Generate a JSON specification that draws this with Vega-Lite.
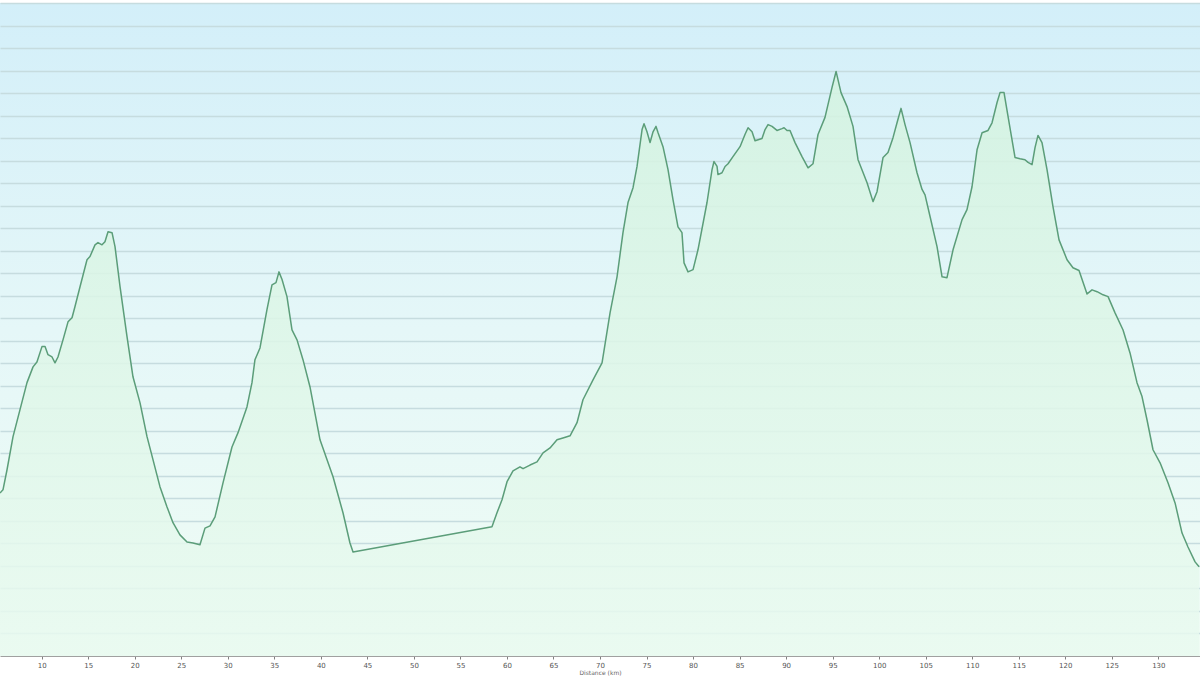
{
  "$schema": "https://vega.github.io/schema/vega-lite/v6.json",
  "width": 1200,
  "height": 653,
  "autosize": {"type": "none"},
  "padding": {"top": 3, "left": 0, "right": 0, "bottom": 28},
  "background": "#ffffff",
  "view": {
    "stroke": null,
    "fill": {"gradient": "linear", "x1": 0, "y1": 0, "x2": 0, "y2": 1,
      "stops": [{"offset": 0, "color": "#d3eff9"}, {"offset": 0.5, "color": "#e5f7f8"}, {"offset": 1, "color": "#effcf4"}]}
  },
  "data": {"values": [
    {"km":5.52,"ele":362},{"km":5.84,"ele":369},{"km":6.27,"ele":413},{"km":6.92,"ele":487},{"km":7.67,"ele":547},
    {"km":8.42,"ele":607},{"km":9.07,"ele":642},{"km":9.49,"ele":653},{"km":10.03,"ele":687},{"km":10.36,"ele":687},
    {"km":10.68,"ele":669},{"km":11.11,"ele":664},{"km":11.43,"ele":651},{"km":11.75,"ele":664},{"km":12.29,"ele":702},
    {"km":12.83,"ele":742},{"km":13.26,"ele":751},{"km":13.58,"ele":776},{"km":14.12,"ele":820},{"km":14.87,"ele":880},
    {"km":15.19,"ele":887},{"km":15.73,"ele":913},{"km":16.05,"ele":918},{"km":16.48,"ele":913},{"km":16.80,"ele":920},
    {"km":17.13,"ele":942},{"km":17.56,"ele":940},{"km":17.88,"ele":909},{"km":18.42,"ele":820},{"km":19.17,"ele":709},
    {"km":19.81,"ele":620},{"km":20.57,"ele":562},{"km":21.32,"ele":487},{"km":21.96,"ele":436},{"km":22.71,"ele":376},
    {"km":23.47,"ele":331},{"km":24.11,"ele":296},{"km":24.86,"ele":269},{"km":25.62,"ele":253},{"km":26.26,"ele":251},
    {"km":27.01,"ele":247},{"km":27.55,"ele":284},{"km":28.09,"ele":289},{"km":28.63,"ele":309},{"km":29.48,"ele":384},
    {"km":30.45,"ele":464},{"km":31.10,"ele":496},{"km":32.06,"ele":553},{"km":32.60,"ele":607},{"km":32.92,"ele":658},
    {"km":33.46,"ele":684},{"km":34.21,"ele":769},{"km":34.75,"ele":824},{"km":35.18,"ele":829},{"km":35.50,"ele":853},
    {"km":35.83,"ele":836},{"km":36.36,"ele":798},{"km":36.90,"ele":724},{"km":37.44,"ele":702},{"km":38.08,"ele":658},
    {"km":38.83,"ele":598},{"km":39.91,"ele":480},{"km":41.31,"ele":398},{"km":42.38,"ele":318},{"km":43.13,"ele":251},
    {"km":43.46,"ele":231},{"km":58.39,"ele":287},{"km":58.93,"ele":318},{"km":59.47,"ele":347},{"km":60.01,"ele":387},
    {"km":60.65,"ele":411},{"km":61.40,"ele":420},{"km":61.73,"ele":416},{"km":62.48,"ele":424},{"km":63.23,"ele":431},
    {"km":63.88,"ele":451},{"km":64.63,"ele":462},{"km":65.38,"ele":480},{"km":66.02,"ele":484},{"km":66.78,"ele":489},
    {"km":67.53,"ele":518},{"km":68.17,"ele":569},{"km":69.25,"ele":613},{"km":70.22,"ele":651},{"km":71.08,"ele":762},
    {"km":71.83,"ele":842},{"km":72.47,"ele":940},{"km":73.01,"ele":1007},{"km":73.55,"ele":1040},{"km":73.98,"ele":1087},
    {"km":74.52,"ele":1169},{"km":74.73,"ele":1182},{"km":75.05,"ele":1164},{"km":75.38,"ele":1140},{"km":75.70,"ele":1164},
    {"km":76.02,"ele":1176},{"km":76.24,"ele":1162},{"km":76.77,"ele":1131},{"km":77.31,"ele":1080},{"km":77.85,"ele":1013},
    {"km":78.38,"ele":953},{"km":78.81,"ele":940},{"km":79.03,"ele":873},{"km":79.46,"ele":853},{"km":80.00,"ele":858},
    {"km":80.53,"ele":902},{"km":81.50,"ele":1007},{"km":82.04,"ele":1080},{"km":82.25,"ele":1098},{"km":82.58,"ele":1087},
    {"km":82.68,"ele":1069},{"km":83.11,"ele":1073},{"km":83.44,"ele":1087},{"km":83.76,"ele":1093},{"km":84.29,"ele":1109},
    {"km":85.05,"ele":1131},{"km":85.58,"ele":1158},{"km":85.91,"ele":1173},{"km":86.34,"ele":1164},{"km":86.66,"ele":1144},
    {"km":87.41,"ele":1149},{"km":87.74,"ele":1169},{"km":88.06,"ele":1180},{"km":88.49,"ele":1176},{"km":89.02,"ele":1167},
    {"km":89.56,"ele":1171},{"km":89.78,"ele":1173},{"km":90.10,"ele":1167},{"km":90.42,"ele":1167},{"km":90.96,"ele":1140},
    {"km":91.71,"ele":1109},{"km":92.36,"ele":1084},{"km":92.89,"ele":1093},{"km":93.43,"ele":1158},{"km":94.18,"ele":1196},
    {"km":94.93,"ele":1262},{"km":95.37,"ele":1298},{"km":95.90,"ele":1251},{"km":96.55,"ele":1220},{"km":97.19,"ele":1176},
    {"km":97.73,"ele":1102},{"km":98.70,"ele":1051},{"km":99.34,"ele":1009},{"km":99.77,"ele":1031},{"km":100.42,"ele":1107},
    {"km":100.95,"ele":1118},{"km":101.49,"ele":1151},{"km":101.92,"ele":1184},{"km":102.35,"ele":1216},{"km":102.78,"ele":1180},
    {"km":103.32,"ele":1140},{"km":104.07,"ele":1073},{"km":104.61,"ele":1036},{"km":104.93,"ele":1024},{"km":105.47,"ele":976},
    {"km":106.22,"ele":909},{"km":106.76,"ele":842},{"km":107.29,"ele":840},{"km":107.94,"ele":902},{"km":108.91,"ele":969},
    {"km":109.44,"ele":991},{"km":109.98,"ele":1042},{"km":110.52,"ele":1124},{"km":111.06,"ele":1162},{"km":111.70,"ele":1167},
    {"km":112.13,"ele":1184},{"km":112.67,"ele":1229},{"km":112.99,"ele":1251},{"km":113.42,"ele":1251},{"km":113.85,"ele":1198},
    {"km":114.60,"ele":1107},{"km":115.14,"ele":1104},{"km":115.67,"ele":1102},{"km":116.00,"ele":1096},{"km":116.43,"ele":1091},
    {"km":116.75,"ele":1129},{"km":117.07,"ele":1156},{"km":117.50,"ele":1140},{"km":118.04,"ele":1080},{"km":118.68,"ele":998},
    {"km":119.33,"ele":924},{"km":120.19,"ele":880},{"km":120.83,"ele":862},{"km":121.48,"ele":856},{"km":122.34,"ele":804},
    {"km":122.88,"ele":813},{"km":123.42,"ele":809},{"km":124.06,"ele":802},{"km":124.60,"ele":798},{"km":125.35,"ele":762},
    {"km":126.21,"ele":724},{"km":126.96,"ele":673},{"km":127.71,"ele":607},{"km":128.25,"ele":576},{"km":128.79,"ele":524},
    {"km":129.43,"ele":458},{"km":130.19,"ele":429},{"km":131.05,"ele":384},{"km":131.80,"ele":340},{"km":132.55,"ele":273},
    {"km":133.19,"ele":242},{"km":133.95,"ele":209},{"km":134.38,"ele":198}
  ]},
  "encoding": {
    "x": {"field": "km", "type": "quantitative",
      "scale": {"domain": [5.52, 134.48], "nice": false, "zero": false},
      "axis": {"title": "Distance (km)", "values": [10,15,20,25,30,35,40,45,50,55,60,65,70,75,80,85,90,95,100,105,110,115,120,125,130],
        "grid": false, "domainColor": "#a0a0a0", "domainWidth": 1, "tickColor": "#808080", "tickSize": 3,
        "labelFont": "DejaVu Sans", "labelFontSize": 7, "labelColor": "#555555", "labelPadding": 2,
        "titleFont": "DejaVu Sans", "titleFontSize": 6, "titleFontWeight": "normal", "titleColor": "#666666", "titlePadding": 1}},
    "y": {"field": "ele", "type": "quantitative",
      "scale": {"domain": [0, 1450], "nice": false},
      "axis": {"title": null, "labels": false, "ticks": false, "domain": false, "grid": true,
        "values": [50,100,150,200,250,300,350,400,450,500,550,600,650,700,750,800,850,900,950,1000,1050,1100,1150,1200,1250,1300,1350,1400,1450],
        "gridColor": "#c6dcdf", "gridWidth": 1.3}}
  },
  "layer": [
    {"mark": {"type": "area", "line": false,
      "fill": {"gradient": "linear", "x1": 0, "y1": 0, "x2": 0, "y2": 1,
        "stops": [{"offset": 0, "color": "#d4f3e0"}, {"offset": 1, "color": "#e9faf0"}]},
      "fillOpacity": 0.85}},
    {"mark": {"type": "line", "color": "#5b9d79", "strokeWidth": 1.5, "strokeJoin": "round"}}
  ]
}
